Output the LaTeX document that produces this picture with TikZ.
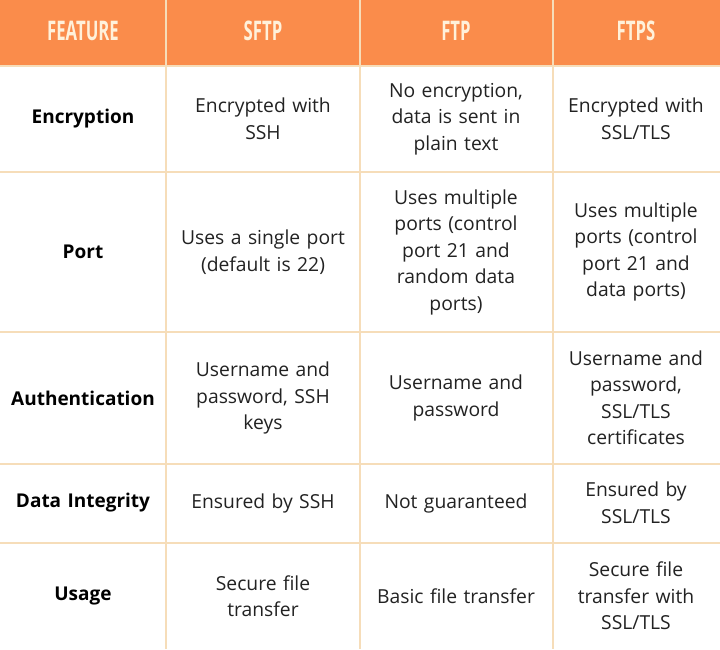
\documentclass[tikz,border=0pt]{standalone}
\usepackage{fontspec}
\setmainfont{Open Sans}
\newfontfamily\hdfont[FakeStretch=0.62]{Open Sans}
\definecolor{hdor}{HTML}{FA8C4B}
\definecolor{hdtx}{HTML}{FFF1DA}
\definecolor{grid}{HTML}{F6DDB9}
\definecolor{txt}{HTML}{222222}
\begin{document}
\begin{tikzpicture}[x=1pt,y=-1pt,
  cell/.style={align=center,text=txt,font=\fontsize{19.3}{26.5}\selectfont,text width=185pt},
  feat/.style={cell,font=\fontsize{19}{26}\selectfont\bfseries,text=black},
  hd/.style={text=hdtx,font=\hdfont\bfseries\fontsize{27}{28}\selectfont}]
\useasboundingbox (0,0) rectangle (720,649);
\fill[white] (0,0) rectangle (720,649);
\fill[hdor] (0,0) rectangle (720,66);
\foreach \x in {166,360,553} \draw[grid,line width=2pt] (\x,0) -- (\x,649);
\foreach \y in {66,172,332,464,543} \draw[grid,line width=2pt] (0,\y) -- (720,\y);
\node[hd] (h1) at (83,31) {FEATURE};
\node[hd] (h2) at (263,31) {SFTP};
\node[hd] (h3) at (456,31) {FTP};
\node[hd] (h4) at (636,31) {FTPS};
\node[feat] (a1) at (83,119) {Encryption};
\node[cell] (a2) at (263,119) {Encrypted with\\SSH};
\node[cell] (a3) at (456,119) {No encryption,\\data is sent in\\plain text};
\node[cell] (a4) at (636,119) {Encrypted with\\SSL/TLS};
\node[feat] (b1) at (83,252) {Port};
\node[cell] (b2) at (263,252) {Uses a single port\\(default is 22)};
\node[cell] (b3) at (456,252) {Uses multiple\\ports (control\\port 21 and\\random data\\ports)};
\node[cell] (b4) at (636,252) {Uses multiple\\ports (control\\port 21 and\\data ports)};
\node[feat] (c1) at (83,398) {Authentication};
\node[cell] (c2) at (263,398) {Username and\\password, SSH\\keys};
\node[cell] (c3) at (456,398) {Username and\\password};
\node[cell] (c4) at (636,398) {Username and\\password,\\SSL/TLS\\certificates};
\node[feat] (d1) at (83,503) {Data Integrity};
\node[cell] (d2) at (263,503) {Ensured by SSH};
\node[cell] (d3) at (456,503) {Not guaranteed};
\node[cell] (d4) at (636,503) {Ensured by\\SSL/TLS};
\node[feat] (e1) at (83,596) {Usage};
\node[cell] (e2) at (263,596) {Secure file\\transfer};
\node[cell] (e3) at (456,596) {Basic file transfer};
\node[cell] (e4) at (636,596) {Secure file\\transfer with\\SSL/TLS};
\end{tikzpicture}
\end{document}
